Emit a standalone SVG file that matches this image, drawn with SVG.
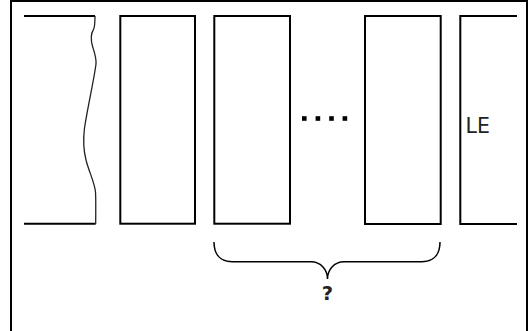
<svg xmlns="http://www.w3.org/2000/svg" width="532" height="331" viewBox="0 0 532 331">
  <style>
    .frame { fill: none; stroke: #000; stroke-width: 2; }
    .box { fill: #fff; stroke: #000; stroke-width: 2; }
    .edge { fill: none; stroke: #000; stroke-width: 2; }
    .wave { fill: none; stroke: #222; stroke-width: 1.3; }
    .brace { fill: none; stroke: #000; stroke-width: 1.5; }
    .dot { fill: #000; }
    .label { font-family: "DejaVu Sans", Verdana, sans-serif; fill: #222; }
  </style>

  <rect width="532" height="331" fill="#fff"/>
  <!-- outer frame (bottom edge runs past the canvas) -->
  <rect class="frame" x="11" y="1" width="516" height="340"/>

  <!-- cut-off first block with a torn edge -->
  <g id="block-torn">
    <path class="edge" d="M24 16 H95"/>
    <path class="edge" d="M24 223.7 H95.7"/>
    <path class="wave" d="M95 16 C95 24 94.5 28 93.3 30 C91 33 90.5 40 92.7 47 C95 54 96.5 58 96 64 C94 80 88 105 84.5 128 C83 140 83.5 150 86 160 C89 172 94.5 182 95.5 192 C96 200 95.7 212 95.7 223.7"/>
  </g>

  <g id="block-1">
    <rect class="box" x="120.3" y="16" width="74.7" height="207.7"/>
  </g>
  <g id="block-2">
    <rect class="box" x="214.3" y="16" width="75.7" height="207.7"/>
  </g>

  <!-- ellipsis between blocks -->
  <g id="ellipsis">
    <rect class="dot" x="302" y="116.2" width="4.6" height="4.6"/>
    <rect class="dot" x="315.6" y="116.2" width="4.6" height="4.6"/>
    <rect class="dot" x="329.2" y="116.2" width="4.6" height="4.6"/>
    <rect class="dot" x="342.6" y="116.2" width="4.6" height="4.6"/>
  </g>

  <g id="block-n">
    <rect class="box" x="365" y="16" width="75.7" height="208"/>
  </g>

  <!-- LE block, open on the right -->
  <g id="block-le">
    <path class="edge" d="M517 16 H460.3 V224 H517"/>
    <text class="label" x="465.5" y="132.7" font-size="20.5">LE</text>
  </g>

  <g id="connectors">
    <path class="brace" d="M214 242 C214 254 220 261.7 232 261.7 H311 C321 261.7 327.5 270 327.5 279 C327.5 270 334 261.7 344 261.7 H422 C434 261.7 440 254 440 242"/>
  </g>

  <g id="brace-label">
    <text class="label" x="327.5" y="299.5" font-size="19.5" font-weight="bold" text-anchor="middle" fill="#000">?</text>
  </g>
</svg>
